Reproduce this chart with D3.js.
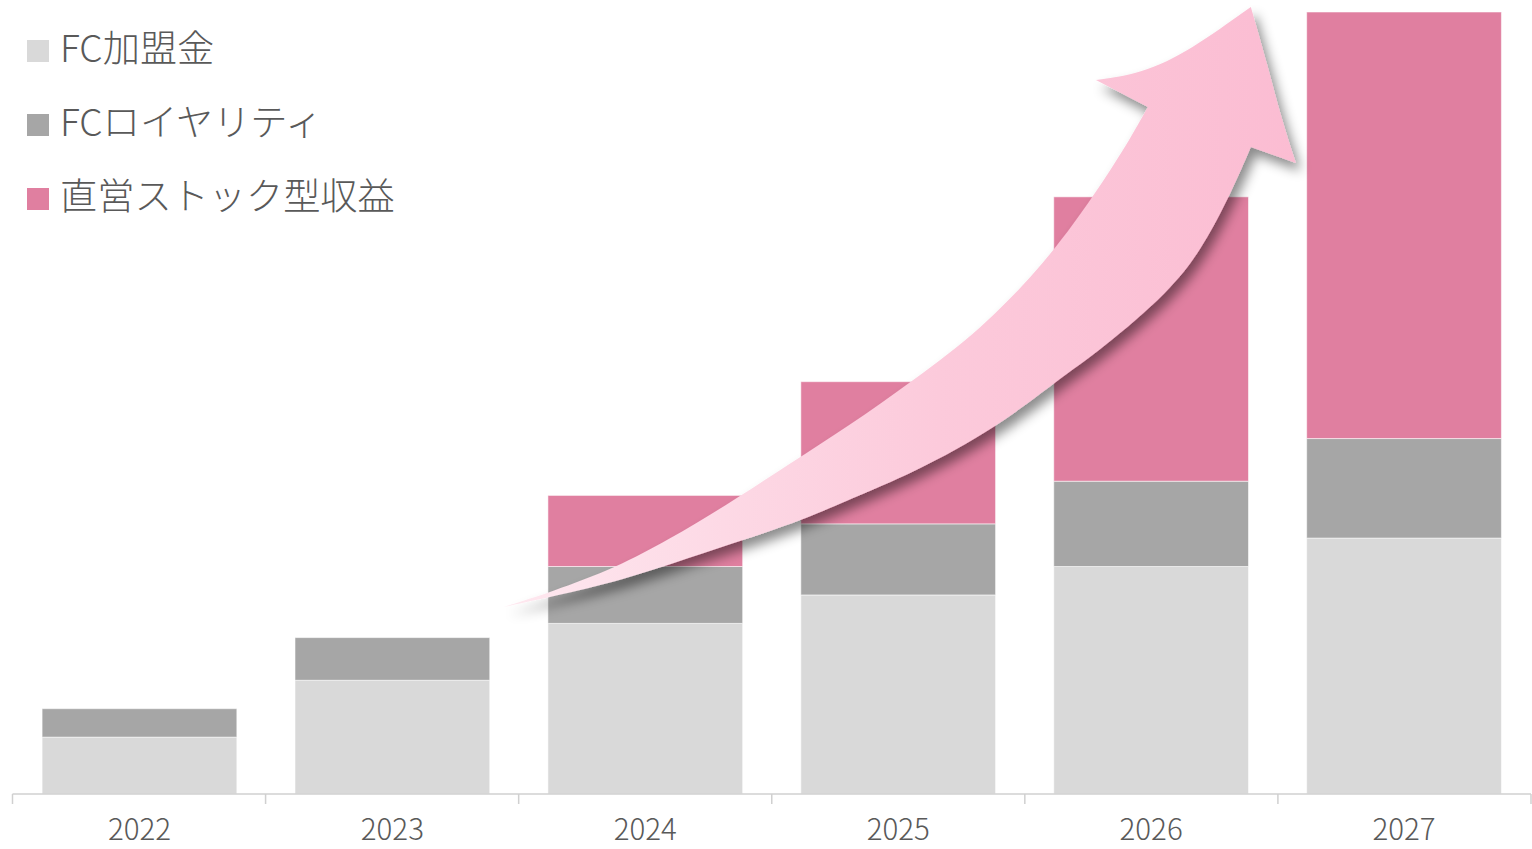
<!DOCTYPE html>
<html lang="ja">
<head>
<meta charset="utf-8">
<script src="https://cdn.jsdelivr.net/npm/d3@7/dist/d3.min.js"></script>
<style>
  html, body { margin: 0; padding: 0; background: #fff; }
  svg { display: block; }
  text { font-family: "Noto Sans CJK JP", "Noto Sans", sans-serif; fill: #595959; font-weight: 300; }
</style>
</head>
<body>
<svg id="chart" width="1532" height="849"></svg>
<script>
// Revenue composition by year (stacked units)
const years = ["2022", "2023", "2024", "2025", "2026", "2027"];
const seriesNames = ["FC加盟金", "FCロイヤリティ", "直営ストック型収益"];
const fcJoinFee = [2, 4, 6, 7, 8, 9];
const fcRoyalty = [1, 1.5, 2, 2.5, 3, 3.5];
const directStock = [0, 0, 2.5, 5, 10, 15];
const seriesColors = ["#d9d9d9", "#a6a6a6", "#e07fa0"];

// Growth arrow outline, in (band index, value) units
const arrowUpper = [[1.941, 6.58], [2.127, 7.10], [2.391, 7.98], [2.589, 8.93], [2.810, 10.09],
  [3.075, 11.64], [3.300, 12.91], [3.561, 14.56], [3.826, 16.32], [4.083, 18.71],
  [4.261, 20.89], [4.391, 22.65], [4.486, 24.16]];
const arrowHeadTop = [[4.281, 25.11], [4.458, 25.32], [4.656, 26.16], [4.893, 27.68]];
const arrowHeadRight = [[4.893, 27.68], [4.961, 25.57], [5.012, 23.81], [5.071, 22.19]];
const arrowLower = [[4.893, 22.75], [4.802, 20.89], [4.696, 19.13], [4.577, 17.72], [4.300, 15.61],
  [4.130, 14.56], [3.893, 12.91], [3.561, 11.29], [3.300, 10.34], [3.154, 9.74],
  [2.889, 8.93], [2.680, 8.33], [2.415, 7.53], [2.127, 6.93], [1.941, 6.58]];

const svg = d3.select("#chart");
const left = 12.5, right = 1531, baseY = 794, topY = 12;

const x = d3.scaleBand().domain(years).range([left, right]).paddingInner(0.23).paddingOuter(0.117);
const y = d3.scaleLinear().domain([0, 27.5]).range([baseY, topY]);
const xi = d3.scaleLinear().domain([0, years.length]).range([left, right]);

const rows = years.map((yr, i) => ({
  year: yr, [seriesNames[0]]: fcJoinFee[i], [seriesNames[1]]: fcRoyalty[i], [seriesNames[2]]: directStock[i]
}));
const stacked = d3.stack().keys(seriesNames)(rows);

// Stacked bars
const g = svg.append("g");
g.selectAll("g.series").data(stacked).join("g")
  .attr("class", "series")
  .attr("fill", (d, i) => seriesColors[i])
  .selectAll("rect").data(d => d.filter(s => s[1] - s[0] > 0)).join("rect")
  .attr("x", d => x(d.data.year))
  .attr("y", d => y(d[1]))
  .attr("width", x.bandwidth())
  .attr("height", d => y(d[0]) - y(d[1]))
  .attr("stroke", "rgba(255,255,255,0.55)")
  .attr("stroke-width", 1);

// Category axis
const axis = svg.append("g").attr("transform", `translate(0,${baseY})`);
axis.append("line").attr("x1", left).attr("x2", right).attr("y1", 0).attr("y2", 0)
  .attr("stroke", "#d0d0d0").attr("stroke-width", 1.5);
const boundaries = d3.range(years.length + 1).map(i => xi(i));
axis.selectAll("line.tick").data(boundaries).join("line")
  .attr("class", "tick")
  .attr("x1", d => d).attr("x2", d => d).attr("y1", 0).attr("y2", 10)
  .attr("stroke", "#d0d0d0").attr("stroke-width", 1.5);
axis.selectAll("text").data(years).join("text")
  .attr("x", d => x(d) + x.bandwidth() / 2)
  .attr("y", 46)
  .attr("text-anchor", "middle")
  .attr("font-size", 29.5)
  .text(d => d);

// Legend
const legend = svg.append("g");
const items = legend.selectAll("g").data(seriesNames).join("g")
  .attr("transform", (d, i) => `translate(27,${40 + i * 74})`);
items.append("rect").attr("width", 22).attr("height", 22).attr("fill", (d, i) => seriesColors[i]);
items.append("text").attr("x", 33).attr("y", 22).attr("font-size", 37.2).text(d => d);

// Growth arrow with drop shadow
const defs = svg.append("defs");
const grad = defs.append("linearGradient").attr("id", "arrowFill")
  .attr("gradientUnits", "userSpaceOnUse")
  .attr("x1", xi(1.9)).attr("x2", xi(5.1)).attr("y1", 0).attr("y2", 0);
grad.append("stop").attr("offset", "0%").attr("stop-color", "#fee9f0");
grad.append("stop").attr("offset", "55%").attr("stop-color", "#fccadb");
grad.append("stop").attr("offset", "100%").attr("stop-color", "#fbbcd2");
const shadow = defs.append("filter").attr("id", "arrowShadow")
  .attr("x", "-10%").attr("y", "-10%").attr("width", "130%").attr("height", "130%");
shadow.append("feDropShadow").attr("dx", 5).attr("dy", 8).attr("stdDeviation", 6)
  .attr("flood-color", "#000").attr("flood-opacity", 0.45);

const toPx = p => [xi(p[0]), y(p[1])];
const curve = d3.line().curve(d3.curveBasis);
const seg = pts => curve(pts.map(toPx));
const join = s => s.replace(/^M/, "L");
const arrowPath = seg(arrowUpper)
  + join(seg(arrowHeadTop))
  + join(seg(arrowHeadRight))
  + join(seg(arrowLower)) + "Z";

svg.append("path")
  .attr("d", arrowPath)
  .attr("fill", "url(#arrowFill)")
  .attr("filter", "url(#arrowShadow)");
</script>
</body>
</html>
